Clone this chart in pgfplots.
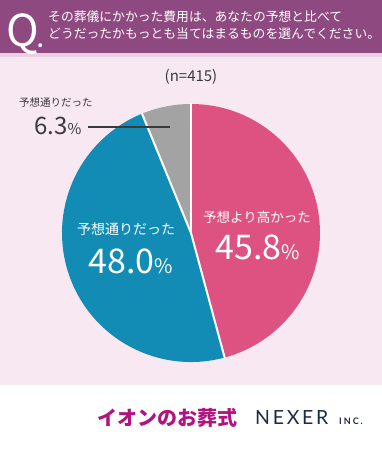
\documentclass[border=0pt]{standalone}
\usepackage{pgfplots}
\pgfplotsset{compat=1.18}
\usepackage{pgfplotstable}
\usepackage{fontspec}
\setmainfont{Noto Sans CJK JP}
\newfontfamily\jp{Noto Sans CJK JP}
\newfontfamily\nx[LetterSpace=14]{Lato}
\newfontfamily\inc[LetterSpace=22]{Lato}
\definecolor{hdr}{HTML}{8E4A80}
\definecolor{hdrl}{HTML}{E9CFE3}
\definecolor{bgp}{HTML}{F8E8F2}
\definecolor{pinkc}{HTML}{DE5281}
\definecolor{bluec}{HTML}{128CB5}
\definecolor{grayc}{HTML}{A3A3A3}
\definecolor{txt}{HTML}{3A3A3A}
\definecolor{aeon}{HTML}{B3137F}
\definecolor{nexer}{HTML}{1E2A44}

\pgfplotstableread{
key value
high 45.8
same 48.0
low 6.3
}\piedata

\begin{document}
\begin{tikzpicture}
\pgfplotstablegetelem{0}{value}\of\piedata \pgfmathsetmacro\va{\pgfplotsretval}
\pgfplotstablegetelem{1}{value}\of\piedata \pgfmathsetmacro\vb{\pgfplotsretval}
\pgfplotstablegetelem{2}{value}\of\piedata \pgfmathsetmacro\vc{\pgfplotsretval}
\pgfmathsetmacro\aA{90}
\pgfmathsetmacro\aB{90-3.6*\va}
\pgfmathsetmacro\aC{\aB-3.6*\vb}
\pgfmathsetmacro\aD{-270}
\begin{axis}[scale only axis, width=382pt, height=450pt,
  xmin=0, xmax=382, ymin=0, ymax=450, hide axis, clip=false]
% backgrounds
\fill[white] (axis cs:0,0) rectangle (axis cs:382,450);
\fill[bgp] (axis cs:0,65) rectangle (axis cs:382,393);
\fill[hdrl] (axis cs:0,393) rectangle (axis cs:382,397);
\fill[hdr] (axis cs:0,397) rectangle (axis cs:382,450);
% header
\node[anchor=base west, white, inner sep=0pt, font=\fontsize{44}{44}\selectfont] at (axis cs:6,403) {Q};
\node[anchor=base west, white, inner sep=0pt, font=\fontsize{18}{18}\selectfont\bfseries] at (axis cs:37.5,402) {.};
\node[anchor=base west, white, inner sep=0pt, font=\fontsize{12.8}{13}\selectfont] at (axis cs:48,428) {その葬儀にかかった費用は、あなたの予想と比べて};
\node[anchor=base west, white, inner sep=0pt, font=\fontsize{12.8}{13}\selectfont] at (axis cs:48,411) {どうだったかもっとも当てはまるものを選んでください。};
% pie
\fill[pinkc] (axis cs:191,217) -- +(\aA:129pt) arc[start angle=\aA, end angle=\aB, radius=129pt] -- cycle;
\fill[bluec] (axis cs:191,217) -- +(\aB:129pt) arc[start angle=\aB, end angle=\aC, radius=129pt] -- cycle;
\fill[grayc] (axis cs:191,217) -- +(\aC:129pt) arc[start angle=\aC, end angle=\aD, radius=129pt] -- cycle;
\draw[white, line width=2pt] (axis cs:191,217) -- +(\aA:129.5pt);
\draw[white, line width=2pt] (axis cs:191,217) -- +(\aB:129.5pt);
\draw[white, line width=2pt] (axis cs:191,217) -- +(\aC:129.5pt);
% labels
\node[txt, font=\fontsize{15}{15}\selectfont] at (axis cs:191,373) {(n=415)};
\node[anchor=west, txt, inner sep=0pt, font=\fontsize{10.5}{11}\selectfont] at (axis cs:19,347) {予想通りだった};
\node[anchor=base west, txt, inner sep=0pt] at (axis cs:34,315) {\fontsize{24}{24}\selectfont 6.3\fontsize{15}{15}\selectfont\%};
\draw[txt, line width=1.4pt] (axis cs:88,323) -- (axis cs:170,323);
\node[white, font=\fontsize{13.5}{14}\selectfont] at (axis cs:257,233) {予想より高かった};
\node[anchor=base, white, inner sep=0pt] at (axis cs:258,190) {\fontsize{34}{34}\selectfont 45.8\fontsize{20}{20}\selectfont\%};
\node[white, font=\fontsize{14}{14}\selectfont] at (axis cs:126,221) {予想通りだった};
\node[anchor=base, white, inner sep=0pt] at (axis cs:131,176) {\fontsize{34}{34}\selectfont 48.0\fontsize{20}{20}\selectfont\%};
% footer
\node[anchor=west, aeon, inner sep=0pt, font=\fontsize{20}{20}\selectfont\bfseries] at (axis cs:97,32) {イオンのお葬式};
\node[anchor=west, nexer, inner sep=0pt, font=\nx\fontsize{19.5}{19.5}\selectfont] at (axis cs:255,32) {NEXER};
\node[anchor=west, nexer, inner sep=0pt, font=\inc\fontsize{9}{9}\selectfont\bfseries] at (axis cs:339,28.5) {INC.};
\end{axis}
\end{tikzpicture}
\end{document}
